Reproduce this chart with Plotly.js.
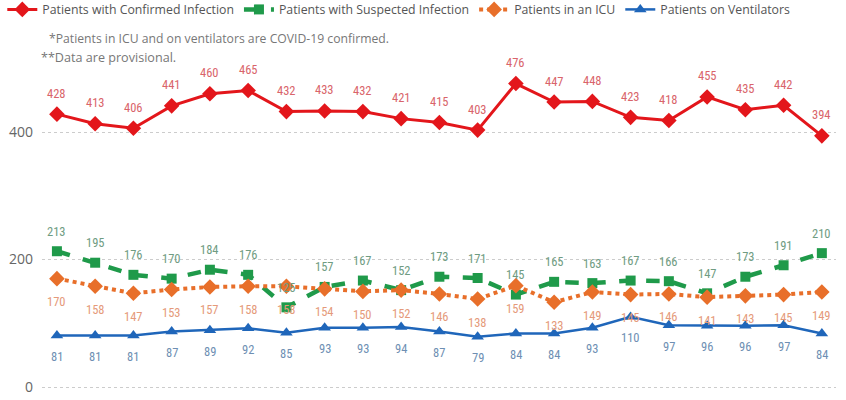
<!DOCTYPE html>
<html><head><meta charset="utf-8">
<script src="https://cdn.plot.ly/plotly-3.0.1.min.js"></script>
<style>html,body{margin:0;padding:0;background:#fff;}#chart{width:846px;height:400px;}</style>
</head><body><div id="chart"></div>
<script>
const days = Array.from({length:21}, (_, i) => 'D' + (i + 1));
const confirmed = [428,413,406,441,460,465,432,433,432,421,415,403,476,447,448,423,418,455,435,442,394];
const suspected = [213,195,176,170,184,176,125,157,167,152,173,171,145,165,163,167,166,147,173,191,210];
const icu = [170,158,147,153,157,158,158,154,150,152,146,138,159,133,149,145,146,141,143,145,149];
const vent = [81,81,81,87,89,92,85,93,93,94,87,79,84,84,93,110,97,96,96,97,84];
const seriesNames = ['Patients with Confirmed Infection','Patients with Suspected Infection','Patients in an ICU','Patients on Ventilators'];
const yTicks = [0,200,400];

const font = '"Roboto Condensed", Roboto, "Noto Sans", sans-serif';
const uiFont = '"Open Sans", "Noto Sans", sans-serif';
const colors = ['#e3161b','#1f9a4a','#e86f2a','#1f66ba'];
const labelColors = ['#d9646a','#6f9c82','#e59a7a','#6e8fb3'];

const traces = [
  {x: days, y: confirmed, name: seriesNames[0], mode:'lines+markers',
   line:{color:colors[0], width:3}, marker:{symbol:'diamond', size:12, color:colors[0]}},
  {x: days, y: suspected, name: seriesNames[1], mode:'lines+markers',
   line:{color:colors[1], width:4.5, dash:'dash'}, marker:{symbol:'square', size:10, color:colors[1]}},
  {x: days, y: icu, name: seriesNames[2], mode:'lines+markers',
   line:{color:colors[2], width:4, dash:'dot'}, marker:{symbol:'diamond', size:12, color:colors[2]}},
  {x: days, y: vent, name: seriesNames[3], mode:'lines+markers',
   line:{color:colors[3], width:2.5}, marker:{symbol:'triangle-up', size:11, color:colors[3]}}
];

const annotations = [];
const sets = [[confirmed, 21], [suspected, 20], [icu, -23], [vent, -21]];
sets.forEach(([arr, shift], k) => {
  arr.forEach((v, i) => {
    annotations.push({x: days[i], y: v, xref:'x', yref:'y', text: String(v), showarrow:false,
      yshift: shift, font:{family:font, size:12.5, color:labelColors[k]}});
  });
});
annotations.push({xref:'paper', yref:'paper', x:0.006, y:0.95, xanchor:'left', yanchor:'middle',
  text:'*Patients in ICU and on ventilators are COVID-19 confirmed.', showarrow:false,
  font:{family:uiFont, size:12.2, color:'#777'}});
annotations.push({xref:'paper', yref:'paper', x:-0.004, y:0.898, xanchor:'left', yanchor:'middle',
  text:'**Data are provisional.', showarrow:false,
  font:{family:uiFont, size:12.6, color:'#777'}});

const layout = {
  width:846, height:400,
  margin:{l:42, r:10, t:20, b:11, autoexpand:false},
  paper_bgcolor:'#fff', plot_bgcolor:'#fff',
  font:{family:font, color:'#666'},
  showlegend:true,
  legend:{orientation:'h', x:-0.05, y:1.068, xanchor:'left', yanchor:'top',
    font:{family:uiFont, size:12.3, color:'#555'}, tracegroupgap:0, bgcolor:'rgba(0,0,0,0)'},
  xaxis:{type:'category', showticklabels:false, showgrid:false, zeroline:false, showline:false,
    range:[-0.39, 20.37]},
  yaxis:{range:[-3.1, 575.7], tickvals:yTicks, ticktext:yTicks.map(String), showgrid:true,
    gridcolor:'#cccccc', griddash:'dot', gridwidth:1, zeroline:false, showline:false,
    tickfont:{family:uiFont, size:14, color:'#666'}, ticks:'', ticklabelstandoff:8},
  annotations: annotations
};
Plotly.newPlot('chart', traces, layout, {displayModeBar:false, staticPlot:true});
</script></body></html>
